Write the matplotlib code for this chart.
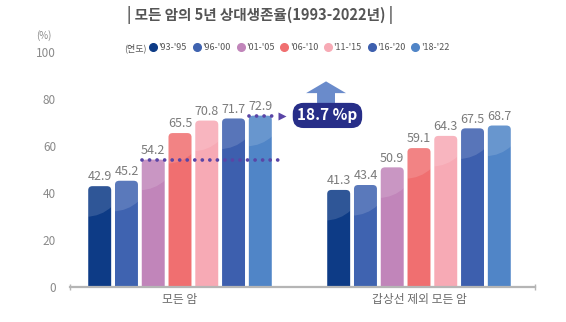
import matplotlib.pyplot as plt
from matplotlib.patches import FancyBboxPatch, Ellipse, FancyArrow
from matplotlib.lines import Line2D

plt.rcParams['font.family'] = ['Noto Sans CJK KR', 'DejaVu Sans']

groups = ['모든 암', '갑상선 제외 모든 암']
periods = ["'93-'95", "'96-'00", "'01-'05", "'06-'10", "'11-'15", "'16-'20", "'18-'22"]
all_cancer = [42.9, 45.2, 54.2, 65.5, 70.8, 71.7, 72.9]
no_thyroid = [41.3, 43.4, 50.9, 59.1, 64.3, 67.5, 68.7]
colors = ['#0d3b86', '#3f63b0', '#c185ba', '#f06f70', '#f7aab5', '#3d5fae', '#5085c7']

values = [all_cancer, no_thyroid]

fig = plt.figure(figsize=(5.66, 3.22), dpi=100)
ax = fig.add_axes([70 / 566, 1 - 287 / 322, 465 / 566, 235 / 322])

step = 0.112
bw = 0.096
for g, vals in enumerate(values):
    for i, v in enumerate(vals):
        xc = g + (i - 3) * step
        bar = FancyBboxPatch((xc - bw / 2, -4), bw, v + 4,
                             boxstyle='round,pad=0,rounding_size=0.018',
                             mutation_aspect=95, fc=colors[i], ec='none', zorder=2)
        ax.add_patch(bar)
        hl = Ellipse((xc - bw * 0.6, v + 2), bw * 3.2, 30, fc='white', ec='none',
                     alpha=0.14, zorder=3)
        ax.add_patch(hl)
        hl.set_clip_path(bar)
        ax.text(xc, v + 1.2, f'{v}', ha='center', va='bottom', fontsize=9,
                color='#7b7b7b', zorder=4)

# dotted comparison lines
lo, hi = all_cancer[2], all_cancer[6]
x_lo = (2 - 3) * step - bw / 2
x_hi = (6 - 3) * step - bw / 2
ax.plot([x_lo, 0.44], [lo, lo], color='#5a45a6', lw=2.7, ls=(0, (0.01, 2.0)),
        dash_capstyle='round', zorder=5)
ax.plot([x_hi, 0.415], [hi, hi], color='#5a45a6', lw=2.7, ls=(0, (0.01, 2.0)),
        dash_capstyle='round', zorder=5)
ax.plot([0.428], [hi], marker='>', ms=5.5, color='#5a45a6', mec='none', zorder=5)

# gap badge
ax.add_patch(FancyArrow(0.611, 77, 0, 10.5, width=0.075, head_width=0.167,
                        head_length=5, length_includes_head=True,
                        fc='#6a8bcb', ec='none', zorder=4))
ax.text(0.617, 73, f'{hi - lo:.1f} %p', ha='center', va='center', fontsize=11,
        fontweight='bold', color='white', zorder=6,
        bbox=dict(boxstyle='round,pad=0.3,rounding_size=0.7', fc='#272e88', ec='none'))

ax.set_xlim(-0.4603, 1.4854)
ax.set_ylim(0, 100)
ax.set_yticks([0, 20, 40, 60, 80, 100])
ax.set_xticks([0, 1])
ax.set_xticklabels(groups)
ax.tick_params(axis='y', length=0, pad=10, labelsize=8.5, labelcolor='#8a8a8a')
ax.tick_params(axis='x', length=0, pad=4, labelsize=8.5, labelcolor='#6a6a6a')
for s in ['left', 'right', 'top']:
    ax.spines[s].set_visible(False)
ax.spines['bottom'].set_color('#b5b5b5')
ax.spines['bottom'].set_linewidth(1.6)
ax.plot([0, 1], [0, 0], marker='|', ms=5, color='#b5b5b5', ls='none',
        transform=ax.transAxes, clip_on=False)

fig.text(44 / 566, 1 - 36 / 322, '(%)', ha='center', va='center', fontsize=7,
         color='#8a8a8a')
fig.text(260 / 566, 1 - 15 / 322, '| 모든 암의 5년 상대생존율(1993-2022년) |',
         ha='center', va='center', fontsize=10.5, fontweight='bold', color='#555555')

# legend
fig.text(135 / 566, 1 - 48 / 322, '(연도)', ha='center', va='center', fontsize=6.5,
         color='#555555')
handles = [Line2D([], [], ls='none', marker='o', ms=5.5, color=c) for c in colors]
fig.legend(handles, periods, ncol=7, loc='center left',
           bbox_to_anchor=(150 / 566, 1 - 48 / 322), frameon=False, fontsize=6.5,
           handlelength=0.7, handletextpad=0.25, columnspacing=0.75,
           labelcolor='#555555', borderaxespad=0, borderpad=0)

fig.savefig('out.png', dpi=100)
